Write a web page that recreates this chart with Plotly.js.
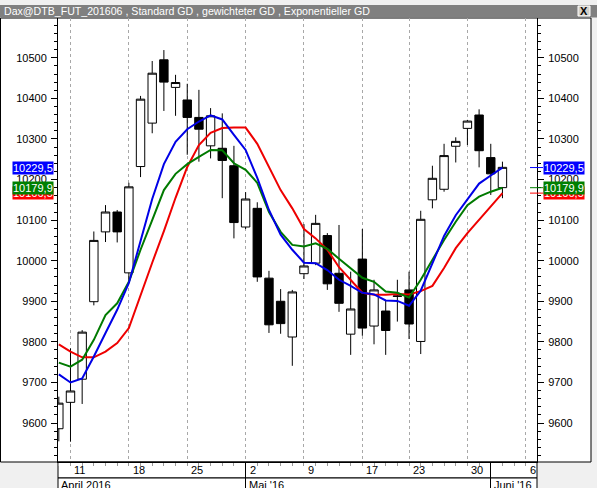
<!DOCTYPE html>
<html>
<head>
<meta charset="utf-8">
<script src="https://cdn.plot.ly/plotly-3.0.1.min.js"></script>
<style>
html,body{margin:0;padding:0;background:#f0f0f0;}
#chart{width:597px;height:488px;}
</style>
</head>
<body>
<div id="chart"></div>
<script>
// ---- data ----
const dates = ['2016-04-08','2016-04-11','2016-04-12','2016-04-13','2016-04-14','2016-04-15',
  '2016-04-18','2016-04-19','2016-04-20','2016-04-21','2016-04-22',
  '2016-04-25','2016-04-26','2016-04-27','2016-04-28','2016-04-29',
  '2016-05-02','2016-05-03','2016-05-04','2016-05-05','2016-05-06',
  '2016-05-09','2016-05-10','2016-05-11','2016-05-12','2016-05-13',
  '2016-05-17','2016-05-18','2016-05-19','2016-05-20',
  '2016-05-23','2016-05-24','2016-05-25','2016-05-26','2016-05-27',
  '2016-05-30','2016-05-31','2016-06-01','2016-06-02'];
const openP  = [9586,9651,9708,9899,10071,10120, 9970,10232,10339,10495,10427, 10396,10353,10283,10277,10234,
  10083,10129,9957,9900,9812, 9968,9994,10062,9969,9819, 10004,9839,9876,9912, 9928,9801,10150,10176,10282, 10326,10359,10254,10180];
const highP  = [9665,9784,9829,10072,10137,10125, 10192,10406,10492,10519,10458, 10436,10421,10376,10363,10283,
  10169,10144,9975,9930,9928, 10090,10113,10068,10088,9973, 10078,9953,9903,9953, 9973,10123,10234,10288,10304, 10347,10373,10288,10244];
const lowP   = [9555,9554,9647,9890,10046,10045, 9945,10206,10314,10369,10357, 10261,10244,10252,10154,10055,
  10078,9948,9822,9820,9741, 9955,9989,9928,9874,9768, 9815,9794,9768,9850, 9807,9770,10129,10170,10242, 10285,10230,10162,10154];
const closeP = [9649,9679,9824,10050,10120,10071, 10182,10398,10462,10440,10439, 10353,10324,10357,10247,10094,
  10152,9960,9842,9845,9923, 9987,10092,9943,9895,9881, 9834,9928,9828,9913, 9844,10102,10203,10259,10294, 10344,10271,10214,10230];

// moving averages (blue / green / red)
const maBlue  = [9720,9700,9710,9764,9822,9879, 9945,10051,10152,10238,10293, 10324,10343,10358,10348,10310,
  10273,10204,10125,10064,10027, 9995,9994,9977,9953,9938, 9921,9917,9902,9901, 9889,9926,9995,10061,10112, 10152,10190,10210,10229.5];
const maGreen = [9749,9739,9756,9805,9866,9895, 9948,10027,10100,10174,10214, 10238,10256,10273,10272,10240,
  10224,10192,10120,10071,10039, 10035,10043,10029,10005,9982, 9958,9948,9924,9921, 9909,9953,10002,10051,10096, 10137,10158,10170,10179.9];
const maRed   = [9794,9776,9762,9762,9776,9797, 9834,9916,9995,10073,10155, 10231,10285,10315,10327,10328,
  10328,10288,10231,10174,10129, 10078,10055,10027,9984,9953, 9921,9916,9916,9918, 9917,9925,9938,9982,10031, 10068,10100,10132,10166.5];

// axis labels
const weekTickIdx  = [1,6,11,16,21,26,30,35,40];
const weekTickText = ['11','18','25','2','9','17','23','30','6'];
const monthStartIdx = [16,37];
const monthText = ['April 2016',"Mai '16","Juni '16"];
const yTicks = [9600,9700,9800,9900,10000,10100,10200,10300,10400,10500];
const titleText = 'Dax@DTB_FUT_201606 , Standard GD , gewichteter GD , Exponentieller GD';

// ---- chart ----
const xIdx = dates.map((d,i)=>i);
const FONT = 'Liberation Sans, Arial, sans-serif';
const W = 597, H = 488, ML = 58, MR = 60, MT = 18, MB = 26;
const PW = W-ML-MR, PH = H-MT-MB;
const px = v => (v-ML)/PW;           // pixel -> paper x
const py = v => (H-MB-v)/PH;         // pixel -> paper y
const xRange = [-0.07, 40.96];
const yRange = [9504, 10598];

const traces = [
  {type:'candlestick', x:xIdx, open:openP, high:highP, low:lowP, close:closeP,
   increasing:{line:{color:'#000',width:1}, fillcolor:'#ffffff'},
   decreasing:{line:{color:'#000',width:1}, fillcolor:'#000000'},
   whiskerwidth:0, hoverinfo:'none', showlegend:false, xaxis:'x', yaxis:'y'},
  {type:'scatter', mode:'lines', x:xIdx, y:maRed,   line:{color:'#ee0000',width:2}, xaxis:'x2', yaxis:'y2', hoverinfo:'none', showlegend:false},
  {type:'scatter', mode:'lines', x:xIdx, y:maGreen, line:{color:'#007a00',width:2}, xaxis:'x2', yaxis:'y2', hoverinfo:'none', showlegend:false},
  {type:'scatter', mode:'lines', x:xIdx, y:maBlue,  line:{color:'#0000e6',width:2}, xaxis:'x2', yaxis:'y2', hoverinfo:'none', showlegend:false}
];

const yAxisBase = {
  range:yRange, tickmode:'array', tickvals:yTicks, ticktext:yTicks.map(String),
  ticks:'outside', ticklen:6, tickcolor:'#000', tickwidth:1,
  showline:true, linecolor:'#000', linewidth:1, showgrid:false, zeroline:false,
  tickfont:{family:FONT,size:11,color:'#000'}, ticklabelstandoff:2, fixedrange:true,
  minor:{ticks:'outside', ticklen:3, tickcolor:'#000', tick0:0, dtick:20, showgrid:false}
};

const annotations = [];
weekTickIdx.forEach((ix,k)=>{
  annotations.push({x:ix, xref:'x', xanchor:'left', xshift:2, y:0, yref:'paper', yshift:-8, yanchor:'middle',
    text:weekTickText[k], showarrow:false, font:{family:FONT,size:11,color:'#000'}});
});
annotations.push({x:0, xref:'paper', xanchor:'left', xshift:1, y:py(485), yref:'paper', yanchor:'middle',
  text:monthText[0], showarrow:false, font:{family:FONT,size:11,color:'#000'}});
monthStartIdx.forEach((ix,k)=>{
  annotations.push({x:ix, xref:'x', xanchor:'left', xshift:1, y:py(485), yref:'paper', yanchor:'middle',
    text:monthText[k+1], showarrow:false, font:{family:FONT,size:11,color:'#000'}});
});
// last-value tags (red below, green, blue on top)
const fmt = v => v.toFixed(1).replace('.',',');
const tags = [[maRed,'#ff0000'],[maGreen,'#008000'],[maBlue,'#0000ff']];
const shapes = [
  {type:'rect', xref:'paper', yref:'paper', x0:px(0.5), x1:px(591), y0:py(462), y1:py(18),
   fillcolor:'#ffffff', line:{color:'#000',width:1}, layer:'below'},
  {type:'rect', xref:'paper', yref:'paper', x0:px(0), x1:px(597), y0:py(17.5), y1:py(5),
   fillcolor:'#808080', line:{width:0}, layer:'below'},
  {type:'rect', xref:'paper', yref:'paper', x0:px(578), x1:px(590), y0:py(16), y1:py(6),
   fillcolor:'#d4d0c8', line:{color:'#ffffff',width:1}, layer:'below'},
  {type:'rect', xref:'paper', yref:'paper', x0:0, x1:1, y0:py(478), y1:py(462),
   fillcolor:'#ffffff', line:{color:'#000',width:1}, layer:'below'},
  {type:'rect', xref:'paper', yref:'paper', x0:0, x1:1, y0:py(496), y1:py(478),
   fillcolor:'#ffffff', line:{color:'#000',width:1}, layer:'below'}
];
tags.forEach(([arr,col])=>{
  const v = arr[arr.length-1];
  shapes.push({type:'line', xref:'paper', yref:'y', x0:px(530), x1:px(543), y0:v, y1:v, line:{color:col,width:1}});
  annotations.push({x:px(543), xref:'paper', xanchor:'left', y:v, yref:'y', yanchor:'middle',
    text:fmt(v), showarrow:false, bgcolor:col, borderpad:0, font:{family:FONT,size:11,color:'#fff'}});
  annotations.push({x:px(54), xref:'paper', xanchor:'right', y:v, yref:'y', yanchor:'middle',
    text:fmt(v), showarrow:false, bgcolor:col, borderpad:0, font:{family:FONT,size:11,color:'#fff'}});
});
annotations.push({x:px(584), xref:'paper', xanchor:'center', y:py(11), yref:'paper', yanchor:'middle',
  text:'<b>X</b>', showarrow:false, font:{family:FONT,size:11,color:'#000'}});

const layout = {
  width:W, height:H,
  margin:{l:ML, r:MR, t:MT, b:MB, pad:0},
  paper_bgcolor:'#f0f0f0', plot_bgcolor:'#ffffff',
  showlegend:false, dragmode:false,
  boxgap:0.28, boxgroupgap:0,
  title:{text:titleText, x:4/W, xanchor:'left', xref:'container', y:1-11.5/H, yanchor:'middle', yref:'container',
    font:{family:FONT,size:10.6,color:'#ffffff'}},
  xaxis:{range:xRange, type:'linear', tickmode:'array', tickvals:weekTickIdx, ticktext:weekTickIdx.map(()=>''),
    showticklabels:false, ticks:'outside', ticklen:16, tickcolor:'#000', tickwidth:1,
    showgrid:true, gridcolor:'#a8a8a8', griddash:'3px,3px', gridwidth:1,
    showline:true, linecolor:'#000', linewidth:1, zeroline:false, fixedrange:true,
    rangeslider:{visible:false},
    minor:{ticks:'outside', ticklen:3, tickcolor:'#999', tick0:0, dtick:1, showgrid:false}},
  xaxis2:{range:xRange, type:'linear', overlaying:'x', anchor:'y', side:'bottom',
    tickmode:'array', tickvals:monthStartIdx, showticklabels:false, ticks:'outside', ticklen:34,
    tickcolor:'#000', tickwidth:1, showgrid:false, showline:false, zeroline:false, fixedrange:true},
  yaxis:Object.assign({}, yAxisBase, {side:'left', anchor:'x'}),
  yaxis2:Object.assign({}, yAxisBase, {side:'right', overlaying:'y', anchor:'x2'}),
  shapes:shapes,
  annotations:annotations
};

Plotly.newPlot('chart', traces, layout, {displayModeBar:false, staticPlot:true});
</script>
</body>
</html>
